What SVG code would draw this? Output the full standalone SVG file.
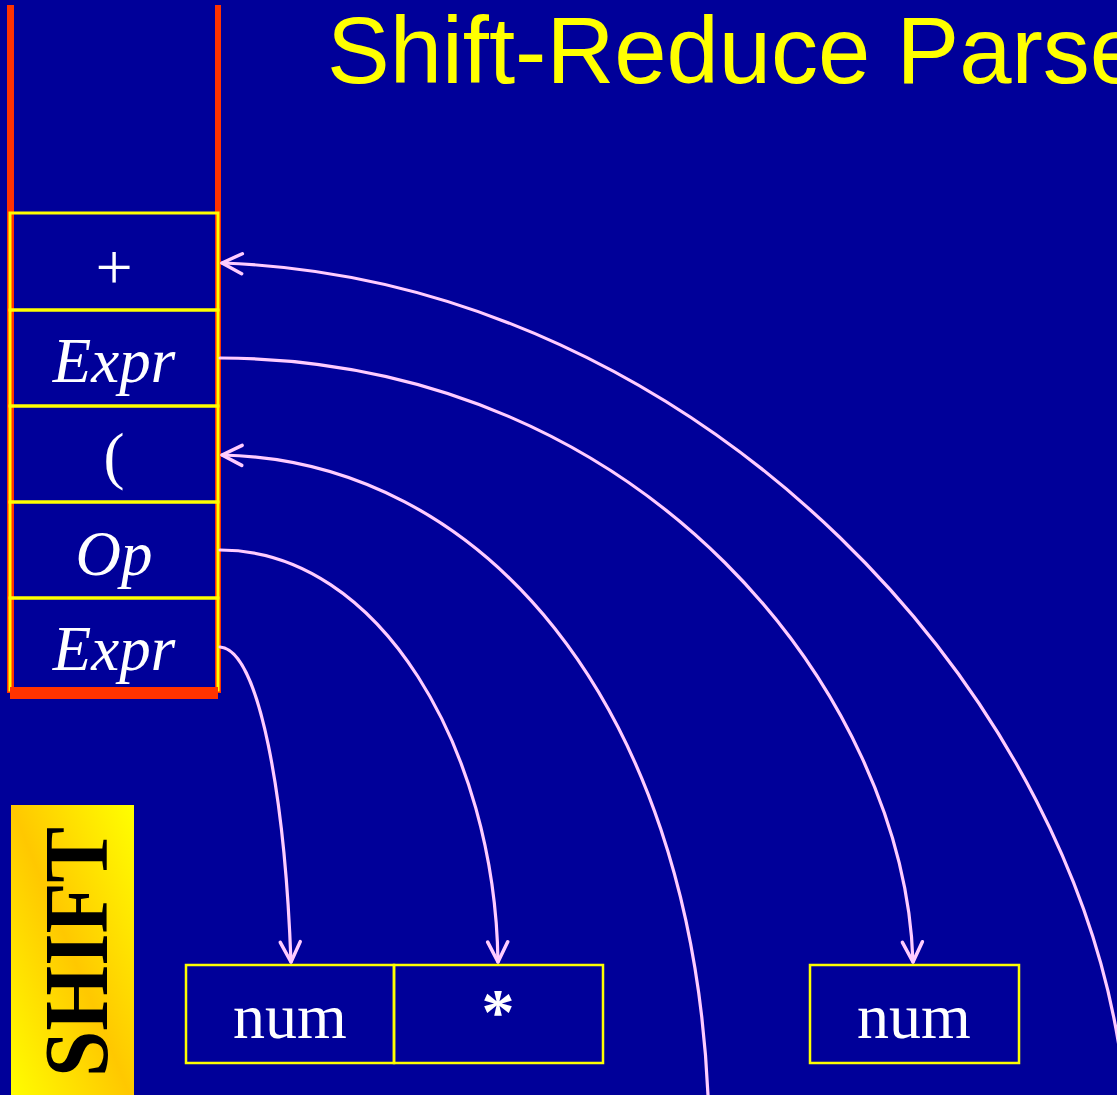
<svg xmlns="http://www.w3.org/2000/svg" width="1117" height="1095" viewBox="0 0 1117 1095">
<style>
.cell{fill:none;stroke:#FFFF00;stroke-width:3}
.box{fill:none;stroke:#FFFF00;stroke-width:2.5}
.t{font-family:"Liberation Serif","Times New Roman",serif;font-size:63px;fill:#FFFFFF;text-anchor:middle}
.i{font-style:italic}
.conn{fill:none;stroke:#FFCCFF;stroke-width:3.2;stroke-linecap:round}
.red{stroke:#FF3300;fill:none}
</style>
<defs>
<marker id="ah" markerUnits="userSpaceOnUse" viewBox="-24 -14 28 28" refX="0" refY="0" markerWidth="28" markerHeight="28" orient="auto">
<path d="M -20 -10 L 0 0 L -20 10" fill="none" stroke="#FFCCFF" stroke-width="3.5" stroke-linecap="round" stroke-linejoin="round"/>
</marker>
<linearGradient id="shiftg" x1="1" y1="0" x2="0" y2="1">
<stop offset="0" stop-color="#FFFF00"/>
<stop offset="0.5" stop-color="#FFC800"/>
<stop offset="1" stop-color="#FFFF00"/>
</linearGradient>
</defs>
<rect x="0" y="0" width="1117" height="1095" fill="#000099"/>
<text id="title" x="327" y="83" font-family="'Liberation Sans',Arial,sans-serif" font-size="94" fill="#FFFF00">Shift-Reduce Parse</text>
<g id="stack">
<line class="red" x1="10.5" y1="5" x2="10.5" y2="693" stroke-width="7"/>
<line class="red" x1="218" y1="5" x2="218" y2="693" stroke-width="6"/>
</g>
<g id="cell-plus"><rect class="cell" x="10" y="213" width="208" height="97"/><text class="t" x="114" y="289" style="font-size:66px">+</text></g>
<g id="cell-expr1"><rect class="cell" x="10" y="310" width="208" height="96"/><text class="t i" x="114" y="382">Expr</text></g>
<g id="cell-paren"><rect class="cell" x="10" y="406" width="208" height="96"/><text class="t" x="114" y="477">(</text></g>
<g id="cell-op"><rect class="cell" x="10" y="502" width="208" height="96"/><text class="t i" x="114" y="575">Op</text></g>
<g id="cell-expr2"><rect class="cell" x="10" y="598" width="208" height="92"/><text class="t i" x="114" y="670">Expr</text></g>
<rect id="stack-bottom" x="10" y="687" width="208" height="12" fill="#FF3300"/>
<g id="shift">
<rect x="11" y="805" width="123" height="300" fill="url(#shiftg)"/>
<text transform="translate(107,952) rotate(-90)" x="0" y="0" text-anchor="middle" font-family="'Liberation Serif','Times New Roman',serif" font-weight="bold" font-size="92" fill="#000000" textLength="250" lengthAdjust="spacingAndGlyphs">SHIFT</text>
</g>
<g id="in-num1"><rect class="box" x="186" y="965" width="208" height="98"/><text class="t" x="290" y="1038" style="font-size:64px">num</text></g>
<g id="in-star"><rect class="box" x="394" y="965" width="209" height="98"/><text class="t" x="498" y="1034" style="font-size:66px;font-weight:bold">*</text></g>
<g id="in-num2"><rect class="box" x="810" y="965" width="209" height="98"/><text class="t" x="914" y="1038" style="font-size:64px">num</text></g>
<g id="connectors">
<path class="conn" d="M 1125 1095 C 1090 700 700 280 222 263" marker-end="url(#ah)"/>
<path class="conn" d="M 220 358 C 650 360 905 700 913 962" marker-end="url(#ah)"/>
<path class="conn" d="M 708 1095 C 690 700 480 460 222 455" marker-end="url(#ah)"/>
<path class="conn" d="M 220 550 C 380 550 495 750 498 962" marker-end="url(#ah)"/>
<path class="conn" d="M 220 647 C 260 650 285 800 291 962" marker-end="url(#ah)"/>
</g>
</svg>
